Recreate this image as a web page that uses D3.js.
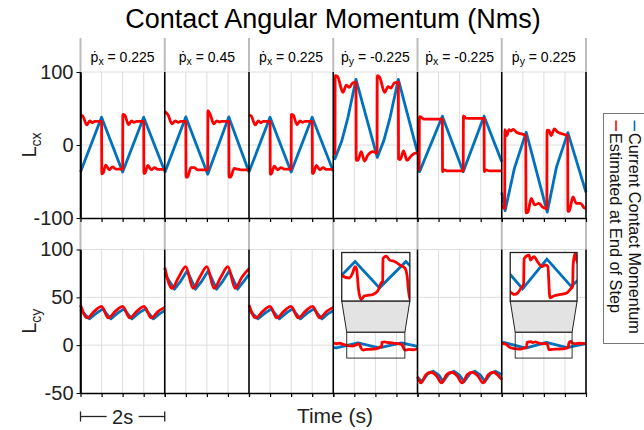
<!DOCTYPE html>
<html>
<head>
<meta charset="utf-8">
<script src="https://cdn.jsdelivr.net/npm/d3@7"></script>
<style>
  body { margin: 0; background: #fff; }
  svg { display: block; font-family: "Liberation Sans", Arial, "DejaVu Sans", sans-serif; }
</style>
</head>
<body>
<div id="main"></div>
<script>
//data
const panelVars = ['x', 'x', 'x', 'y', 'x', 'y'];
const panelRates = ['0.225', '0.45', '0.225', '-0.225', '-0.225', '0.225'];
const timeTicks = [0, 0.5, 1, 1.5, 2];
const lcxTicks = [-100, 0, 100];
const lcyTicks = [-50, 0, 50, 100];
const legendLabels = ['Current Contact Momentum', 'Estimated at End of Step'];

//[time (s) inside the 2s panel, momentum]
const lcxCurrent = [
  [[0,-37],[0.5,38],[1.0,-37],[1.5,38],[2.0,-36]],
  [[0,-38],[0.5,38.5],[1.02,-40],[1.52,38.5],[2.0,-37]],
  [[0,-37],[0.5,38],[1.0,-37],[1.5,38],[2.0,-36]],
  [[0,-15],[0.04,-19],[0.2,5],[0.35,38],[0.54,90],[1.045,-17],[1.2,6],[1.35,38],[1.545,90],[2.0,-10]],
  [[0,-35],[0.05,-36.5],[0.59,39.5],[1.085,-36.5],[1.58,39.5],[2.0,-23]],
  [[0,-65],[0.08,-90],[0.3,-32],[0.58,17.5],[1.08,-92],[1.3,-30],[1.57,17],[2.0,-65]]
];
const lcxEstimated = [
  [[0,41],[0.05,40],[0.15,27.5],[0.22,33],[0.28,30.5],[0.34,32.5],[0.5,32.5],[0.505,-39.5],[0.53,-39],[0.6,-27.5],[0.68,-34],[0.76,-30],[0.84,-33],[1.0,-33],[1.005,42],[1.05,41],[1.14,28],[1.21,33],[1.27,31],[1.33,32.5],[1.5,32.5],[1.505,-39],[1.53,-38.5],[1.6,-28],[1.68,-34],[1.76,-31],[1.84,-33.5],[2.0,-33.5]],
  [[0,46],[0.08,41],[0.17,29],[0.25,33],[0.32,31],[0.38,32.5],[0.5,32.5],[0.505,-44],[0.54,-44],[0.62,-31],[0.7,-31],[0.78,-34],[1.02,-34],[1.025,47],[1.08,42],[1.16,29],[1.24,33],[1.3,31.5],[1.36,32.5],[1.52,32.5],[1.525,-44],[1.56,-44],[1.65,-32],[1.73,-33],[1.81,-34],[2.0,-34]],
  [[0,41],[0.05,40],[0.15,27.5],[0.22,33],[0.28,30.5],[0.34,32.5],[0.5,32.5],[0.505,-40],[0.53,-39.5],[0.6,-29],[0.68,-34],[0.76,-31],[0.84,-33],[1.0,-33],[1.005,42],[1.05,41],[1.14,28],[1.21,33],[1.27,31],[1.33,32.5],[1.5,32.5],[1.505,-39],[1.53,-38.5],[1.6,-28],[1.68,-34],[1.76,-31],[1.84,-33.5],[2.0,-33.5]],
  [[0,-12],[0.04,-12],[0.045,95],[0.1,94],[0.23,72],[0.31,82],[0.38,79],[0.46,85],[0.54,86],[0.545,-21],[0.585,-21],[0.665,-9],[0.74,-22],[0.82,-14],[0.94,-9],[1.04,-11],[1.045,95],[1.1,93],[1.22,72],[1.3,80],[1.37,78],[1.45,85],[1.545,86],[1.55,-19],[1.59,-20],[1.67,-8],[1.75,-21],[1.85,-15],[1.95,-11],[2.0,-11]],
  [[0,-34],[0.04,-34],[0.045,39],[0.1,37.5],[0.15,35.5],[0.59,35.5],[0.595,-36.5],[0.64,-34],[0.7,-35.5],[1.085,-35.5],[1.09,40],[1.14,37],[1.2,36.5],[1.58,36.5],[1.585,-36.5],[1.63,-34],[1.7,-35.5],[2.0,-35.5]],
  [[0,-83],[0.07,-87],[0.075,21],[0.12,13],[0.17,21],[0.22,19],[0.27,21.5],[0.35,17.5],[0.45,15.5],[0.57,13],[0.575,-93],[0.62,-92],[0.7,-73],[0.78,-82],[0.88,-80],[0.97,-85],[1.07,-87],[1.075,20.5],[1.12,20],[1.17,13],[1.25,22],[1.32,18],[1.45,15],[1.565,13],[1.57,-91],[1.6,-91],[1.69,-71],[1.77,-80],[1.87,-80],[1.96,-86],[2.0,-87]]
];
const lcyCurrent = [
  [[0,37],[0.04,35],[0.21,27.5],[0.38,33.5],[0.53,38],[0.56,36],[0.72,27.5],[0.88,33.5],[1.03,38],[1.06,36],[1.22,27.5],[1.38,33.5],[1.54,38],[1.57,36],[1.73,27.5],[1.88,33],[2.0,36]],
  [[0,75],[0.05,71],[0.23,58.5],[0.38,67],[0.53,77.5],[0.57,74],[0.73,58.5],[0.88,67],[1.03,77.5],[1.07,74],[1.23,58.5],[1.38,67],[1.53,77.5],[1.57,74],[1.73,58.5],[1.88,67],[2.0,74]],
  [[0,37],[0.04,35],[0.21,27.5],[0.38,33.5],[0.53,38],[0.56,36],[0.72,27.5],[0.88,33.5],[1.03,38],[1.06,36],[1.22,27.5],[1.38,33.5],[1.54,38],[1.57,36],[1.73,27.5],[1.88,33],[2.0,36]],
  [[0,-2.3],[0.07,-2.8],[0.59,2.4],[1.085,-2.8],[1.62,2.4],[2.0,-1.3]],
  [[0,-34],[0.11,-38],[0.24,-30],[0.37,-27.3],[0.5,-31],[0.61,-38],[0.74,-30],[0.87,-27.3],[0.99,-31],[1.11,-38],[1.24,-30],[1.36,-27.3],[1.49,-31],[1.6,-38],[1.73,-30],[1.85,-27.3],[2.0,-31]],
  [[0,2.5],[0.06,2.8],[0.57,-3.0],[1.06,2.9],[1.55,-2.5],[2.0,1.5]]
];
const lcyEstimated = [
  [[0,42],[0.16,28.5],[0.33,35.5],[0.5,40.5],[0.66,28.5],[0.83,35.5],[1.0,40.5],[1.17,28.5],[1.34,35.5],[1.51,40.5],[1.68,28.5],[1.85,35.5],[2.0,39.5]],
  [[0,81],[0.17,59.5],[0.33,71],[0.5,82],[0.67,59.5],[0.83,71],[1.0,82],[1.17,59.5],[1.33,71],[1.5,82],[1.67,59.5],[1.83,71],[2.0,80]],
  [[0,42],[0.16,28.5],[0.33,35.5],[0.5,40.5],[0.66,28.5],[0.83,35.5],[1.0,40.5],[1.17,28.5],[1.34,35.5],[1.51,40.5],[1.68,28.5],[1.85,35.5],[2.0,39.5]],
  [[0,2.5],[0.08,1.5],[0.16,2.0],[0.25,0.5],[0.33,-0.4],[0.47,-0.85],[0.54,0.1],[0.59,1.4],[0.62,1.0],[0.66,-3.1],[0.71,-5.1],[0.78,-4.4],[0.845,-4.3],[0.95,-4.1],[1.05,-3.4],[1.12,-1.8],[1.15,-1.5],[1.155,3.0],[1.22,3.5],[1.29,2.7],[1.39,2.4],[1.495,1.75],[1.6,1.1],[1.645,-0.5],[1.67,-3.1],[1.70,-5.1],[1.8,-4.5],[1.9,-4.8],[2.0,-4.0]],
  [[0,-33],[0.08,-39.5],[0.2,-31],[0.32,-28.3],[0.45,-32],[0.57,-39.5],[0.69,-31],[0.81,-28.3],[0.94,-32],[1.06,-39.5],[1.18,-31],[1.3,-28.3],[1.43,-32],[1.56,-39.5],[1.68,-31],[1.8,-28.3],[1.92,-32],[2.0,-36]],
  [[0,2.0],[0.1,1.0],[0.2,-2.5],[0.28,-3.5],[0.35,-3.8],[0.4,-4.1],[0.47,-3.8],[0.54,-2.8],[0.59,-2.0],[0.6,3.0],[0.7,3.7],[0.73,2.7],[0.8,3.4],[0.87,2.4],[0.96,1.4],[1.03,1.75],[1.08,1.4],[1.12,-4.75],[1.2,-4.4],[1.33,-4.1],[1.46,-3.8],[1.53,-3.1],[1.58,-2.5],[1.59,1.6],[1.62,3.7],[1.64,4.0],[1.66,2.7],[1.75,1.5],[1.85,2.0],[2.0,1.5]]
];

//zoom insets on the Lcy row
const insetPanels = [3, 5];
const insetTime = [[0.32, 1.70], [0.32, 1.67]];
const insetRange = [-13.5, 13.5];
const insetZoom = [-5.4, 4.2];

//layout
const W = 644, H = 430;
const plotL = 80.5, plotR = 586;
const blue = '#0072bd', red = '#ff0000';
const lw = 2.8;

const svg = d3.select('#main')
  .append('svg')
  .attr('width', W)
  .attr('height', H);

const panel = d3.scaleBand()
  .domain(d3.range(6))
  .range([plotL, plotR]);
const bw = panel.bandwidth();
const tScale = i => d3.scaleLinear().domain([0, 2]).range([panel(i), panel(i) + bw]);

const rows = [
  {sub: 'cx', top: 72, bottom: 218, y: d3.scaleLinear().domain([-100, 100]).range([218, 72]),
   ticks: lcxTicks, cur: lcxCurrent, est: lcxEstimated},
  {sub: 'cy', top: 249.5, bottom: 393, y: d3.scaleLinear().domain([-50, 100]).range([393, 249.5]),
   ticks: lcyTicks, cur: lcyCurrent, est: lcyEstimated}
];

const bounds = d3.range(7).map(k => plotL + k * bw);

//gray facet separators in the strip and between rows
[[38, 72], [219, 249.5]].forEach(([a, b]) => {
  svg.append('g').selectAll('line')
    .data(bounds).enter().append('line')
    .attr('x1', d => d).attr('x2', d => d)
    .attr('y1', a).attr('y2', b)
    .attr('stroke', '#bcbcbc').attr('stroke-width', 2);
});

//strip labels
panelVars.forEach((v, i) => {
  const t = svg.append('text')
    .attr('x', panel(i) + bw / 2)
    .attr('y', 62)
    .attr('text-anchor', 'middle')
    .style('font-size', '14px');
  t.append('tspan').text('ṗ');
  t.append('tspan').attr('dy', 3).style('font-size', '10.5px').text(v);
  t.append('tspan').attr('dy', -3).text(' = ' + panelRates[i]);
});

const line = (x, y) => d3.line().x(d => x(d[0])).y(d => y(d[1]));
const smooth = (x, y) => d3.line().curve(d3.curveMonotoneX).x(d => x(d[0])).y(d => y(d[1]));

rows.forEach(r => {
  const g = svg.append('g');

  //grid
  g.selectAll('.hgrid')
    .data(r.ticks.slice(1)).enter().append('line')
    .attr('x1', plotL).attr('x2', plotR)
    .attr('y1', d => r.y(d)).attr('y2', d => r.y(d))
    .attr('stroke', '#dedede').attr('stroke-width', 1);
  d3.range(6).forEach(i => {
    const tx = tScale(i);
    g.selectAll(null)
      .data(timeTicks.slice(1, -1)).enter().append('line')
      .attr('x1', d => tx(d)).attr('x2', d => tx(d))
      .attr('y1', r.top).attr('y2', r.bottom)
      .attr('stroke', '#dedede').attr('stroke-width', 1);
  });

  //series
  d3.range(6).forEach(i => {
    const tx = tScale(i);
    g.append('path')
      .attr('d', line(tx, r.y)(r.cur[i]))
      .attr('fill', 'none').attr('stroke', blue).attr('stroke-width', lw)
      .attr('stroke-linejoin', 'round');
    g.append('path')
      .attr('d', smooth(tx, r.y)(r.est[i]))
      .attr('fill', 'none').attr('stroke', red).attr('stroke-width', lw)
      .attr('stroke-linejoin', 'round');
  });

  //panel borders
  g.selectAll('.border')
    .data(bounds).enter().append('line')
    .attr('x1', d => d).attr('x2', d => d)
    .attr('y1', r.top).attr('y2', r.bottom)
    .attr('stroke', '#000').attr('stroke-width', 1.6);

  //bottom axis with ticks for every panel
  d3.range(6).forEach(i => {
    const ax = g.append('g')
      .attr('transform', `translate(0, ${r.bottom})`)
      .call(d3.axisBottom(tScale(i)).tickValues(timeTicks).tickSize(4).tickSizeOuter(0).tickFormat(''));
    ax.select('.domain').attr('stroke-width', 1.6);
    ax.selectAll('.tick line').attr('stroke-width', 1.2);
  });

  //left axis
  const ay = g.append('g')
    .attr('transform', `translate(${plotL}, 0)`)
    .call(d3.axisLeft(r.y).tickValues(r.ticks).tickSize(4).tickSizeOuter(0).tickPadding(3).tickFormat(d => String(d)));
  ay.attr('font-size', null).attr('font-family', null);
  ay.select('.domain').attr('stroke-width', 1.6);
  ay.selectAll('text').style('font-size', '20px').attr('fill', '#222');

  //row label
  const lab = svg.append('text')
    .attr('transform', `translate(36, ${(r.top + r.bottom) / 2}) rotate(-90)`)
    .attr('text-anchor', 'middle')
    .style('font-size', '20px')
    .attr('fill', '#222');
  lab.append('tspan').text('L');
  lab.append('tspan').attr('dy', 5).style('font-size', '14px').text(r.sub);
});

//insets
const yb = rows[1].y;
insetPanels.forEach((i, j) => {
  const tx = tScale(i);
  const rx0 = tx(insetTime[j][0]), rx1 = tx(insetTime[j][1]);
  const ry0 = yb(insetRange[1]), ry1 = yb(insetRange[0]);
  const bx0 = rx0 - 5, bx1 = rx1 + 5, by0 = 252.5, by1 = 301;
  const g = svg.append('g');

  g.append('path')
    .attr('d', `M${bx0},${by1}L${bx1},${by1}L${rx1},${ry0}L${rx0},${ry0}Z`)
    .attr('fill', '#e3e3e3').attr('stroke', '#222').attr('stroke-width', 1);
  g.append('rect')
    .attr('x', rx0).attr('y', ry0).attr('width', rx1 - rx0).attr('height', ry1 - ry0)
    .attr('fill', 'none').attr('stroke', '#333').attr('stroke-width', 1);
  g.append('rect')
    .attr('x', bx0).attr('y', by0).attr('width', bx1 - bx0).attr('height', by1 - by0)
    .attr('fill', '#fff');

  svg.append('clipPath').attr('id', 'clip' + j)
    .append('rect')
    .attr('x', bx0).attr('y', by0).attr('width', bx1 - bx0).attr('height', by1 - by0);
  const ix = d3.scaleLinear().domain(insetTime[j]).range([bx0, bx1]);
  const iy = d3.scaleLinear().domain(insetZoom).range([by1, by0]);
  const gc = g.append('g').attr('clip-path', `url(#clip${j})`);
  gc.append('path')
    .attr('d', line(ix, iy)(lcyCurrent[i]))
    .attr('fill', 'none').attr('stroke', blue).attr('stroke-width', lw);
  gc.append('path')
    .attr('d', smooth(ix, iy)(lcyEstimated[i]))
    .attr('fill', 'none').attr('stroke', red).attr('stroke-width', lw)
    .attr('stroke-linejoin', 'round');

  g.append('rect')
    .attr('x', bx0).attr('y', by0).attr('width', bx1 - bx0).attr('height', by1 - by0)
    .attr('fill', 'none').attr('stroke', '#222').attr('stroke-width', 1.3);
});

//title and x label
svg.append('text')
  .attr('x', 333).attr('y', 28)
  .attr('text-anchor', 'middle')
  .style('font-size', '27px')
  .text('Contact Angular Momentum (Nms)');

svg.append('text')
  .attr('x', 335).attr('y', 423)
  .attr('text-anchor', 'middle')
  .style('font-size', '21px')
  .attr('fill', '#222')
  .text('Time (s)');

//2s scale bar
const sx = tScale(0);
const sb = svg.append('g').attr('stroke', '#222').attr('stroke-width', 1.3);
sb.append('line').attr('x1', sx(0)).attr('x2', sx(0.62)).attr('y1', 416.5).attr('y2', 416.5);
sb.append('line').attr('x1', sx(1.38)).attr('x2', sx(2)).attr('y1', 416.5).attr('y2', 416.5);
sb.append('line').attr('x1', sx(0)).attr('x2', sx(0)).attr('y1', 411.5).attr('y2', 421.5);
sb.append('line').attr('x1', sx(2)).attr('x2', sx(2)).attr('y1', 411.5).attr('y2', 421.5);
svg.append('text')
  .attr('x', sx(1)).attr('y', 423.5)
  .attr('text-anchor', 'middle')
  .style('font-size', '20px')
  .attr('fill', '#222')
  .text('2s');

//legend (rotated)
const lg = svg.append('g');
lg.append('rect')
  .attr('x', 603.5).attr('y', 113.5).attr('width', 60).attr('height', 230)
  .attr('fill', '#fff').attr('stroke', '#777').attr('stroke-width', 1);
[blue, red].forEach((c, k) => {
  const bx = k === 0 ? 628.5 : 610;
  lg.append('line')
    .attr('x1', bx + 6).attr('x2', bx + 6)
    .attr('y1', 120.5).attr('y2', 131)
    .attr('stroke', c).attr('stroke-width', 1.6);
  lg.append('text')
    .attr('transform', `translate(${bx}, 133) rotate(90)`)
    .style('font-size', '16.3px')
    .attr('fill', '#111')
    .text(legendLabels[k]);
});
</script>
</body>
</html>
